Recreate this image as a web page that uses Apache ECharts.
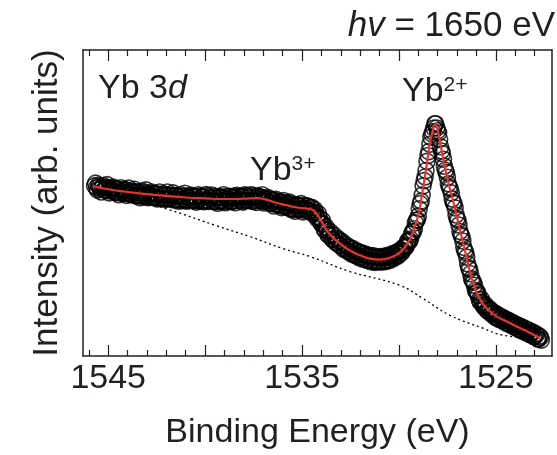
<!DOCTYPE html>
<html>
<head>
<meta charset="utf-8">
<script src="https://cdn.jsdelivr.net/npm/echarts@6/dist/echarts.min.js"></script>
<style>
  html, body { margin: 0; padding: 0; background: #fff; }
  #chart { width: 557px; height: 455px; }
</style>
</head>
<body>
<div id="chart"></div>
<script>
// ---- Data (binding energy in eV, intensity in arb. units) ----
// measured points, grid A: 1545.70 eV downwards in 0.1 eV steps
const dataStartEnergyA = 1545.7;
const dataStepEnergy = 0.1;
const dataIntensityA = [
  55.6,55.0,55.9,54.6,55.2,54.3,55.1,54.0,54.9,53.9,
  54.7,53.6,54.5,53.3,54.2,53.1,54.4,53.2,53.9,52.7,
  53.8,52.5,53.6,52.4,53.3,52.1,53.4,52.2,53.0,51.9,
  53.1,51.7,52.9,51.6,52.8,51.5,52.6,51.4,52.7,51.3,
  52.4,51.0,52.5,51.1,52.2,50.9,52.3,51.0,52.1,50.8,
  52.2,50.7,52.0,50.9,52.3,50.6,51.9,50.8,52.4,50.5,
  51.8,50.7,52.2,50.4,52.0,50.6,51.7,50.5,52.1,50.7,
  51.9,50.6,52.3,50.8,52.0,50.9,52.2,50.7,52.4,50.9,
  52.1,51.0,52.5,50.8,52.2,
  51.3,51.9,50.6,51.6,50.4,51.3,49.9,51.0,49.6,50.6,
  49.3,50.5,49.0,50.1,48.7,49.9,48.3,49.6,48.0,49.4,
  47.9,49.0,47.8,49.2,47.6,48.9,47.5,48.6,
  47.0,46.9,44.8,45.2,43.2,43.1,41.0,41.1,39.5,39.8,
  38.0,38.5,37.0,37.6,36.0,36.7,35.2,35.8,34.3,35.0,
  33.6,34.3,33.0,33.8,32.4,33.2,31.9,32.7,31.4,32.4,
  31.1,32.2,31.0,32.1,30.9,32.0,31.0,32.3,31.3,32.5,
  31.9,33.0,32.6,33.8,33.2,
  34.6,34.5,35.8,36.2,37.8,38.2,40.6,41.6,44.3,45.7,
  49.8,52.6,57.3,60.6,65.5,69.2,72.6,74.5,75.9,73.6,
  70.8,67.0,64.3,60.7,58.4,55.2,53.3,50.2,48.4,44.9,
  42.8,39.6,37.6,34.4,32.3,28.8,26.9,24.6,23.1,20.9,
  19.8,17.6,17.4,15.9,16.1,14.8,15.0,13.8,14.0,12.7,
  13.3,12.1,12.6,11.5,12.0,10.8,11.4,10.2,10.7,9.5,
  10.1,8.9,9.6,8.3,9.0,7.7,8.4,7.0,7.8,6.4,
  7.0,5.5,6.1
];
// measured points, grid B: 1545.65 eV downwards in 0.1 eV steps
const dataStartEnergyB = 1545.65;
const dataIntensityB = [
  56.5,54.2,55.4,53.6,55.7,54.3,56.0,53.3,54.4,55.2,
  53.4,54.6,52.7,55.0,53.6,54.3,52.5,54.9,52.9,53.6,
  54.5,52.3,53.5,51.7,53.9,52.5,54.3,51.7,52.8,53.6,
  51.9,53.1,51.3,53.6,52.2,53.0,51.2,53.6,51.6,52.4,
  53.3,51.1,52.3,50.6,52.7,51.4,53.2,50.6,51.8,52.6,
  50.9,52.2,50.3,52.7,51.4,52.1,50.4,52.8,50.9,51.6,
  52.6,50.4,51.7,49.9,52.1,50.8,52.7,50.1,51.3,52.2,
  50.5,51.8,50.1,52.5,51.2,52.0,50.3,52.7,50.9,51.7,
  52.7,50.5,51.9,50.2,52.3,
  50.9,52.7,50.0,51.1,51.8,49.9,51.0,49.0,51.2,49.7,
  50.4,48.5,50.8,48.8,49.4,50.3,47.9,49.1,47.3,49.3,
  48.0,49.8,47.1,48.2,49.1,47.3,48.5,46.5,
  47.9,45.6,46.5,43.8,44.4,41.4,42.1,39.5,40.7,38.2,
  39.5,37.0,38.4,36.1,37.5,34.9,36.4,34.2,35.6,33.3,
  35.0,32.8,34.3,32.1,33.8,31.6,33.4,31.3,32.9,30.8,
  32.8,30.6,32.5,30.7,32.5,30.7,32.7,30.9,32.9,31.3,
  33.4,31.9,33.9,32.7,34.6,
  33.8,35.6,35.5,37.5,37.5,39.8,40.6,43.5,44.5,48.1,
  50.6,55.6,58.5,63.6,66.8,71.5,73.3,75.9,74.5,72.9,
  68.4,66.1,62.0,60.0,56.3,54.7,51.3,49.8,46.1,44.4,
  40.7,39.1,35.5,33.8,30.1,28.3,25.2,24.1,21.5,20.9,
  18.4,18.6,16.5,16.8,14.9,15.6,13.8,14.5,12.7,13.7,
  12.0,13.0,11.4,12.3,10.7,11.7,10.1,11.0,9.5,10.4,
  8.8,9.7,8.2,9.2,7.6,8.6,7.0,7.9,6.4,7.3,
  5.7,6.5,5.2
];

// fitted envelope
const fitEnergy = [
  1545.77,1545.0,1544.0,1543.0,1542.0,1541.0,1540.0,1539.0,1538.0,1537.3,
  1536.8,1536.3,1535.8,1535.3,1534.8,1534.5,1534.3,1534.0,1533.7,1533.4,
  1533.0,1532.5,1532.0,1531.5,1531.0,1530.5,1530.0,1529.7,1529.4,1529.2,
  1529.0,1528.8,1528.6,1528.4,1528.25,1528.14,1528.0,1527.9,1527.7,1527.5,
  1527.3,1527.1,1526.9,1526.7,1526.5,1526.34,1526.1,1525.82,1525.5,1525.0,
  1524.5,1524.0,1523.5,1523.0,1522.73
];
const fitIntensity = [
  55.5,54.5,53.6,52.9,52.3,51.8,51.5,51.3,51.4,51.6,
  51.0,50.0,49.3,48.6,48.2,47.9,46.9,44.0,40.8,38.7,
  36.6,34.4,32.9,31.8,31.5,32.0,33.6,35.5,38.5,42.0,
  46.0,53.0,61.0,69.5,73.8,75.6,74.0,70.5,64.0,58.0,
  53.0,48.0,42.5,37.3,32.0,27.6,22.6,18.6,15.8,13.1,
  11.5,9.9,8.4,6.8,5.8
];

// Shirley-type background
const bgEnergy = [1545.77,1543.87,1541.80,1539.38,1537.68,1535.98,1534.59,1532.53,1529.95,1528.76,1527.37,1525.67,1524.64,1522.73];
const bgIntensity = [55.5,51.6,47.7,42.5,39.0,35.1,32.5,27.6,23.1,18.8,13.3,9.1,6.8,5.5];

const xMin = 1522.1, xMax = 1546.3;
const yMin = 0, yMax = 100;
const xLabelValues = [1525, 1535, 1545];
const xMajorTicks = [1525, 1530, 1535, 1540, 1545];
const xMinorTicks = [1523,1524,1526,1527,1528,1529,1531,1532,1533,1534,1536,1537,1538,1539,1541,1542,1543,1544,1546];

const xAxisName = 'Binding Energy (eV)';
const yAxisName = 'Intensity (arb. units)';

// ---- Build ----
const dataPoints = []
  .concat(dataIntensityA.map((v, i) => [+(dataStartEnergyA - dataStepEnergy * i).toFixed(2), v]))
  .concat(dataIntensityB.map((v, i) => [+(dataStartEnergyB - dataStepEnergy * i).toFixed(2), v]))
  .sort((a, b) => b[0] - a[0]);
const fitPoints = fitEnergy.map((e, i) => [e, fitIntensity[i]]);
const bgPoints = bgEnergy.map((e, i) => [e, bgIntensity[i]]);

const FONT = 'Liberation Sans, Arial, sans-serif';
const TXT = '#231f20';
const AX = '#231f20';

function xAx(pos, ticks, len, opts) {
  return Object.assign({
    type: 'value', min: xMin, max: xMax, inverse: true, position: pos,
    axisLine: { show: false },
    axisTick: { show: true, inside: true, length: len, customValues: ticks, lineStyle: { color: AX, width: 1.2 } },
    axisLabel: { show: false },
    splitLine: { show: false }
  }, opts || {});
}

const chart = echarts.init(document.getElementById('chart'), null, { renderer: 'canvas' });
chart.setOption({
  animation: false,
  backgroundColor: '#fff',
  grid: { left: 83, right: 5, top: 50, bottom: 97, containLabel: false },
  xAxis: [
    xAx('bottom', xMajorTicks, 11, {
      axisLine: { show: true, lineStyle: { color: AX, width: 1.5 } },
      axisLabel: { show: true, customValues: xLabelValues, formatter: v => String(v),
        fontSize: 34, fontFamily: FONT, color: TXT, margin: 6 },
      name: xAxisName, nameLocation: 'middle', nameGap: 60,
      nameTextStyle: { fontSize: 34, fontFamily: FONT, color: TXT }
    }),
    xAx('bottom', xMinorTicks, 6),
    xAx('top', xMajorTicks, 11, { axisLine: { show: true, lineStyle: { color: AX, width: 1.5 } } }),
    xAx('top', xMinorTicks, 6)
  ],
  yAxis: [
    {
      type: 'value', min: yMin, max: yMax, position: 'left',
      axisLine: { show: true, lineStyle: { color: AX, width: 1.5 } },
      axisTick: { show: false }, axisLabel: { show: false }, splitLine: { show: false },
      name: yAxisName, nameLocation: 'middle', nameGap: 18, nameRotate: 90,
      nameTextStyle: { fontSize: 35, fontFamily: FONT, color: TXT }
    },
    {
      type: 'value', min: yMin, max: yMax, position: 'right',
      axisLine: { show: true, lineStyle: { color: AX, width: 1.5 } },
      axisTick: { show: false }, axisLabel: { show: false }, splitLine: { show: false }
    }
  ],
  series: [
    {
      type: 'line', name: 'background', data: bgPoints, smooth: 0.4, showSymbol: false,
      lineStyle: { color: '#000', width: 1.3, type: [2, 3] }, z: 1, silent: true
    },
    {
      type: 'scatter', name: 'data', data: dataPoints, symbol: 'circle', symbolSize: 16,
      itemStyle: { color: 'rgba(0,0,0,0)', borderColor: '#000', borderWidth: 1.6 }, z: 2, silent: true
    },
    {
      type: 'line', name: 'fit', data: fitPoints, smooth: 0.5, showSymbol: false,
      lineStyle: { color: '#e8332b', width: 2.2 }, z: 3, silent: true
    }
  ],
  graphic: [
    {
      type: 'text', right: 2, top: 9,
      style: {
        text: '{i|hv} = 1650 eV', fill: TXT, font: '35px ' + FONT,
        rich: { i: { fontStyle: 'italic', fontSize: 35, fontFamily: FONT, fill: TXT } }
      }
    },
    {
      type: 'text', left: 98, top: 72,
      style: {
        text: 'Yb 3{i|d}', fill: TXT, font: '34px ' + FONT,
        rich: { i: { fontStyle: 'italic', fontSize: 34, fontFamily: FONT, fill: TXT } }
      }
    },
    {
      type: 'text', left: 250, top: 154,
      style: {
        text: 'Yb{s|3+}', fill: TXT, font: '34px ' + FONT,
        rich: { s: { fontSize: 21, fontFamily: FONT, fill: TXT, verticalAlign: 'top', lineHeight: 24 } }
      }
    },
    {
      type: 'text', left: 402, top: 75,
      style: {
        text: 'Yb{s|2+}', fill: TXT, font: '34px ' + FONT,
        rich: { s: { fontSize: 21, fontFamily: FONT, fill: TXT, verticalAlign: 'top', lineHeight: 24 } }
      }
    }
  ]
});
</script>
</body>
</html>
